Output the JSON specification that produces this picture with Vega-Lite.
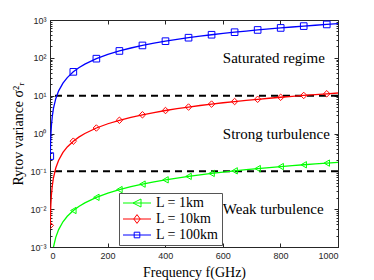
{
  "$schema": "https://vega.github.io/schema/vega-lite/v6.json",
  "width": 288,
  "height": 227,
  "autosize": "none",
  "padding": {"left": 50, "top": 20, "right": 36, "bottom": 33},
  "background": "white",
  "view": {"stroke": "#262626", "strokeWidth": 1},
  "config": {
    "axis": {
      "labelFont": "Liberation Sans",
      "labelFontSize": 9,
      "labelColor": "#262626",
      "titleFont": "Liberation Serif",
      "titleFontSize": 14,
      "titleFontWeight": "normal",
      "titleColor": "#000000",
      "domainColor": "#262626",
      "tickColor": "#262626",
      "grid": false
    }
  },
  "datasets": {
    "curves": [
      {"f": 1, "L": "1km", "v": 0.0000547}, {"f": 2, "L": "1km", "v": 0.000123}, {"f": 3, "L": "1km", "v": 0.000197}, {"f": 5, "L": "1km", "v": 0.000358}, {"f": 8, "L": "1km", "v": 0.000619}, {"f": 12, "L": "1km", "v": 0.000993}, {"f": 20, "L": "1km", "v": 0.0018}, {"f": 30, "L": "1km", "v": 0.00289}, {"f": 45, "L": "1km", "v": 0.00464}, {"f": 60, "L": "1km", "v": 0.00649}, {"f": 81, "L": "1km", "v": 0.00922}, {"f": 100, "L": "1km", "v": 0.01178}, {"f": 121, "L": "1km", "v": 0.01471}, {"f": 161, "L": "1km", "v": 0.02054}, {"f": 201, "L": "1km", "v": 0.02661}, {"f": 241, "L": "1km", "v": 0.03289}, {"f": 281, "L": "1km", "v": 0.03933}, {"f": 321, "L": "1km", "v": 0.04594}, {"f": 361, "L": "1km", "v": 0.0527}, {"f": 401, "L": "1km", "v": 0.05957}, {"f": 441, "L": "1km", "v": 0.06657}, {"f": 481, "L": "1km", "v": 0.07363}, {"f": 521, "L": "1km", "v": 0.08085}, {"f": 561, "L": "1km", "v": 0.08812}, {"f": 601, "L": "1km", "v": 0.09545}, {"f": 641, "L": "1km", "v": 0.1029}, {"f": 681, "L": "1km", "v": 0.1104}, {"f": 721, "L": "1km", "v": 0.118}, {"f": 761, "L": "1km", "v": 0.1257}, {"f": 801, "L": "1km", "v": 0.1335}, {"f": 841, "L": "1km", "v": 0.1412}, {"f": 881, "L": "1km", "v": 0.1491}, {"f": 921, "L": "1km", "v": 0.157}, {"f": 961, "L": "1km", "v": 0.165}, {"f": 1000, "L": "1km", "v": 0.173},
      {"f": 1, "L": "10km", "v": 0.00372}, {"f": 2, "L": "10km", "v": 0.00835}, {"f": 3, "L": "10km", "v": 0.0134}, {"f": 5, "L": "10km", "v": 0.0243}, {"f": 8, "L": "10km", "v": 0.0421}, {"f": 12, "L": "10km", "v": 0.0676}, {"f": 20, "L": "10km", "v": 0.1226}, {"f": 30, "L": "10km", "v": 0.1967}, {"f": 45, "L": "10km", "v": 0.3157}, {"f": 60, "L": "10km", "v": 0.4416}, {"f": 81, "L": "10km", "v": 0.6268}, {"f": 100, "L": "10km", "v": 0.8013}, {"f": 121, "L": "10km", "v": 1.001}, {"f": 161, "L": "10km", "v": 1.397}, {"f": 201, "L": "10km", "v": 1.81}, {"f": 241, "L": "10km", "v": 2.236}, {"f": 281, "L": "10km", "v": 2.675}, {"f": 321, "L": "10km", "v": 3.124}, {"f": 361, "L": "10km", "v": 3.584}, {"f": 401, "L": "10km", "v": 4.051}, {"f": 441, "L": "10km", "v": 4.527}, {"f": 481, "L": "10km", "v": 5.007}, {"f": 521, "L": "10km", "v": 5.498}, {"f": 561, "L": "10km", "v": 5.993}, {"f": 601, "L": "10km", "v": 6.491}, {"f": 641, "L": "10km", "v": 7.001}, {"f": 681, "L": "10km", "v": 7.511}, {"f": 721, "L": "10km", "v": 8.028}, {"f": 761, "L": "10km", "v": 8.549}, {"f": 801, "L": "10km", "v": 9.077}, {"f": 841, "L": "10km", "v": 9.605}, {"f": 881, "L": "10km", "v": 10.14}, {"f": 921, "L": "10km", "v": 10.68}, {"f": 961, "L": "10km", "v": 11.22}, {"f": 1000, "L": "10km", "v": 11.76},
      {"f": 1, "L": "100km", "v": 0.253}, {"f": 2, "L": "100km", "v": 0.568}, {"f": 3, "L": "100km", "v": 0.912}, {"f": 5, "L": "100km", "v": 1.654}, {"f": 8, "L": "100km", "v": 2.861}, {"f": 12, "L": "100km", "v": 4.594}, {"f": 20, "L": "100km", "v": 8.336}, {"f": 30, "L": "100km", "v": 13.38}, {"f": 45, "L": "100km", "v": 21.47}, {"f": 60, "L": "100km", "v": 30.03}, {"f": 81, "L": "100km", "v": 42.63}, {"f": 100, "L": "100km", "v": 54.5}, {"f": 121, "L": "100km", "v": 68.06}, {"f": 161, "L": "100km", "v": 95.0}, {"f": 201, "L": "100km", "v": 123.1}, {"f": 241, "L": "100km", "v": 152.1}, {"f": 281, "L": "100km", "v": 181.9}, {"f": 321, "L": "100km", "v": 212.5}, {"f": 361, "L": "100km", "v": 243.7}, {"f": 401, "L": "100km", "v": 275.5}, {"f": 441, "L": "100km", "v": 307.9}, {"f": 481, "L": "100km", "v": 340.5}, {"f": 521, "L": "100km", "v": 373.9}, {"f": 561, "L": "100km", "v": 407.6}, {"f": 601, "L": "100km", "v": 441.5}, {"f": 641, "L": "100km", "v": 476.1}, {"f": 681, "L": "100km", "v": 510.8}, {"f": 721, "L": "100km", "v": 546.0}, {"f": 761, "L": "100km", "v": 581.4}, {"f": 801, "L": "100km", "v": 617.3}, {"f": 841, "L": "100km", "v": 653.2}, {"f": 881, "L": "100km", "v": 689.7}, {"f": 921, "L": "100km", "v": 726.4}, {"f": 961, "L": "100km", "v": 763.3}, {"f": 1000, "L": "100km", "v": 800.0}
    ],
    "thresholds": [{"t": 10}, {"t": 0.1}],
    "notes": [
      {"x": 600, "y": 100, "t": "Saturated regime"},
      {"x": 600, "y": 1, "t": "Strong turbulence"},
      {"x": 600, "y": 0.01, "t": "Weak turbulence"}
    ]
  },
  "layer": [
    {
      "data": {"name": "thresholds"},
      "mark": {"type": "rule", "color": "#000000", "strokeWidth": 2, "strokeDash": [7, 5]},
      "encoding": {
        "y": {"field": "t", "type": "quantitative", "scale": {"type": "log", "domain": [0.001, 1000], "nice": false}, "axis": null}
      }
    },
    {
      "data": {"name": "curves"},
      "mark": {"type": "line", "strokeWidth": 1.3, "clip": true},
      "encoding": {
        "x": {"field": "f", "type": "quantitative", "scale": {"domain": [0, 1000], "nice": false, "zero": false},
          "axis": {"orient": "bottom", "values": [0, 200, 400, 600, 800, 1000], "format": "d", "tickSize": -4, "labelPadding": 8, "title": "Frequency f(GHz)", "titlePadding": 5}},
        "y": {"field": "v", "type": "quantitative", "scale": {"type": "log", "domain": [0.001, 1000], "nice": false},
          "axis": {"orient": "left",
            "values": [0.001, 0.002, 0.003, 0.004, 0.005, 0.006, 0.007, 0.008, 0.009, 0.01, 0.02, 0.03, 0.04, 0.05, 0.06, 0.07, 0.08, 0.09, 0.1, 0.2, 0.3, 0.4, 0.5, 0.6, 0.7, 0.8, 0.9, 1, 2, 3, 4, 5, 6, 7, 8, 9, 10, 20, 30, 40, 50, 60, 70, 80, 90, 100, 200, 300, 400, 500, 600, 700, 800, 900, 1000],
            "labelExpr": "indexof([0.001,0.01,0.1,1,10,100,1000], datum.value) >= 0 ? '10' + ['⁻³','⁻²','⁻¹','⁰','¹','²','³'][indexof([0.001,0.01,0.1,1,10,100,1000], datum.value)] : ''",
            "tickSize": {"condition": {"test": "indexof([0.001,0.01,0.1,1,10,100,1000], datum.value) >= 0", "value": -4}, "value": -2},
            "labelPadding": 8,
            "title": "Rytov variance σ²ᵣ",
            "titlePadding": 4}},
        "color": {"field": "L", "type": "nominal", "scale": {"domain": ["1km", "10km", "100km"], "range": ["#00ff00", "#ff0000", "#0000ff"]}, "legend": null}
      }
    },
    {
      "data": {"name": "curves"},
      "transform": [{"filter": "(datum.f - 1) % 80 == 0"}],
      "mark": {"type": "point", "filled": false, "strokeWidth": 1, "clip": true, "opacity": 1},
      "encoding": {
        "x": {"field": "f", "type": "quantitative", "scale": {"domain": [0, 1000], "nice": false, "zero": false},
          "axis": {"orient": "top", "values": [0, 200, 400, 600, 800, 1000], "tickSize": -4, "labels": false, "domain": false, "title": null}},
        "y": {"field": "v", "type": "quantitative", "scale": {"type": "log", "domain": [0.001, 1000], "nice": false},
          "axis": {"orient": "right",
            "values": [0.001, 0.002, 0.003, 0.004, 0.005, 0.006, 0.007, 0.008, 0.009, 0.01, 0.02, 0.03, 0.04, 0.05, 0.06, 0.07, 0.08, 0.09, 0.1, 0.2, 0.3, 0.4, 0.5, 0.6, 0.7, 0.8, 0.9, 1, 2, 3, 4, 5, 6, 7, 8, 9, 10, 20, 30, 40, 50, 60, 70, 80, 90, 100, 200, 300, 400, 500, 600, 700, 800, 900, 1000],
            "tickSize": {"condition": {"test": "indexof([0.001,0.01,0.1,1,10,100,1000], datum.value) >= 0", "value": -4}, "value": -2},
            "labels": false, "domain": false, "title": null}},
        "color": {"field": "L", "type": "nominal", "scale": {"domain": ["1km", "10km", "100km"], "range": ["#00ff00", "#ff0000", "#0000ff"]}, "legend": null},
        "shape": {"field": "L", "type": "nominal", "scale": {"domain": ["1km", "10km", "100km"], "range": ["triangle-left", "diamond", "square"]}, "legend": null},
        "size": {"field": "L", "type": "nominal", "scale": {"domain": ["1km", "10km", "100km"], "range": [40, 44, 30]}, "legend": null}
      }
    },
    {
      "data": {"name": "notes"},
      "mark": {"type": "text", "font": "Liberation Serif", "fontSize": 15, "align": "left", "baseline": "middle", "color": "#000000"},
      "encoding": {
        "x": {"field": "x", "type": "quantitative", "scale": {"domain": [0, 1000], "nice": false, "zero": false}, "axis": null},
        "y": {"field": "y", "type": "quantitative", "scale": {"type": "log", "domain": [0.001, 1000], "nice": false}, "axis": null},
        "text": {"field": "t"}
      }
    },
    {
      "data": {"name": "curves"},
      "transform": [{"filter": "datum.f == 1000"}],
      "mark": {"type": "point", "opacity": 0, "filled": false},
      "encoding": {
        "x": {"field": "f", "type": "quantitative", "scale": {"domain": [0, 1000], "nice": false, "zero": false}, "axis": null},
        "y": {"field": "v", "type": "quantitative", "scale": {"type": "log", "domain": [0.001, 1000], "nice": false}, "axis": null},
        "color": {"field": "L", "type": "nominal",
          "scale": {"domain": ["1km", "10km", "100km"], "range": ["#00ff00", "#ff0000", "#0000ff"]},
          "legend": {
            "title": null, "orient": "none", "legendX": 69, "legendY": 173,
            "fillColor": "#ffffff", "strokeColor": "#555555", "padding": 3, "rowPadding": 2,
            "symbolSize": 64, "symbolOffset": 8, "symbolOpacity": 1, "symbolStrokeWidth": 1, "symbolFillColor": "transparent",
            "labelFont": "Liberation Serif", "labelFontSize": 14, "labelColor": "#000000", "labelOffset": 12,
            "labelExpr": "'L = ' + datum.label"
          }},
        "shape": {"field": "L", "type": "nominal",
          "scale": {"domain": ["1km", "10km", "100km"], "range": ["M-3.5,0L3.5,0M1,-1L-1,0L1,1Z", "M-3.5,0L3.5,0M0,-1.1L0.8,0L0,1.1L-0.8,0Z", "M-3.5,0L3.5,0M-0.7,-0.7L0.7,-0.7L0.7,0.7L-0.7,0.7Z"]},
          "legend": {
            "title": null, "orient": "none", "legendX": 69, "legendY": 173,
            "fillColor": "#ffffff", "strokeColor": "#555555", "padding": 3, "rowPadding": 2,
            "symbolSize": 64, "symbolOffset": 8, "symbolOpacity": 1, "symbolStrokeWidth": 1, "symbolFillColor": "transparent",
            "labelFont": "Liberation Serif", "labelFontSize": 14, "labelColor": "#000000", "labelOffset": 12,
            "labelExpr": "'L = ' + datum.label"
          }}
      }
    }
  ],
  "resolve": {"scale": {"shape": "independent", "size": "independent", "color": "independent"}, "axis": {"x": "independent", "y": "independent"}}
}
